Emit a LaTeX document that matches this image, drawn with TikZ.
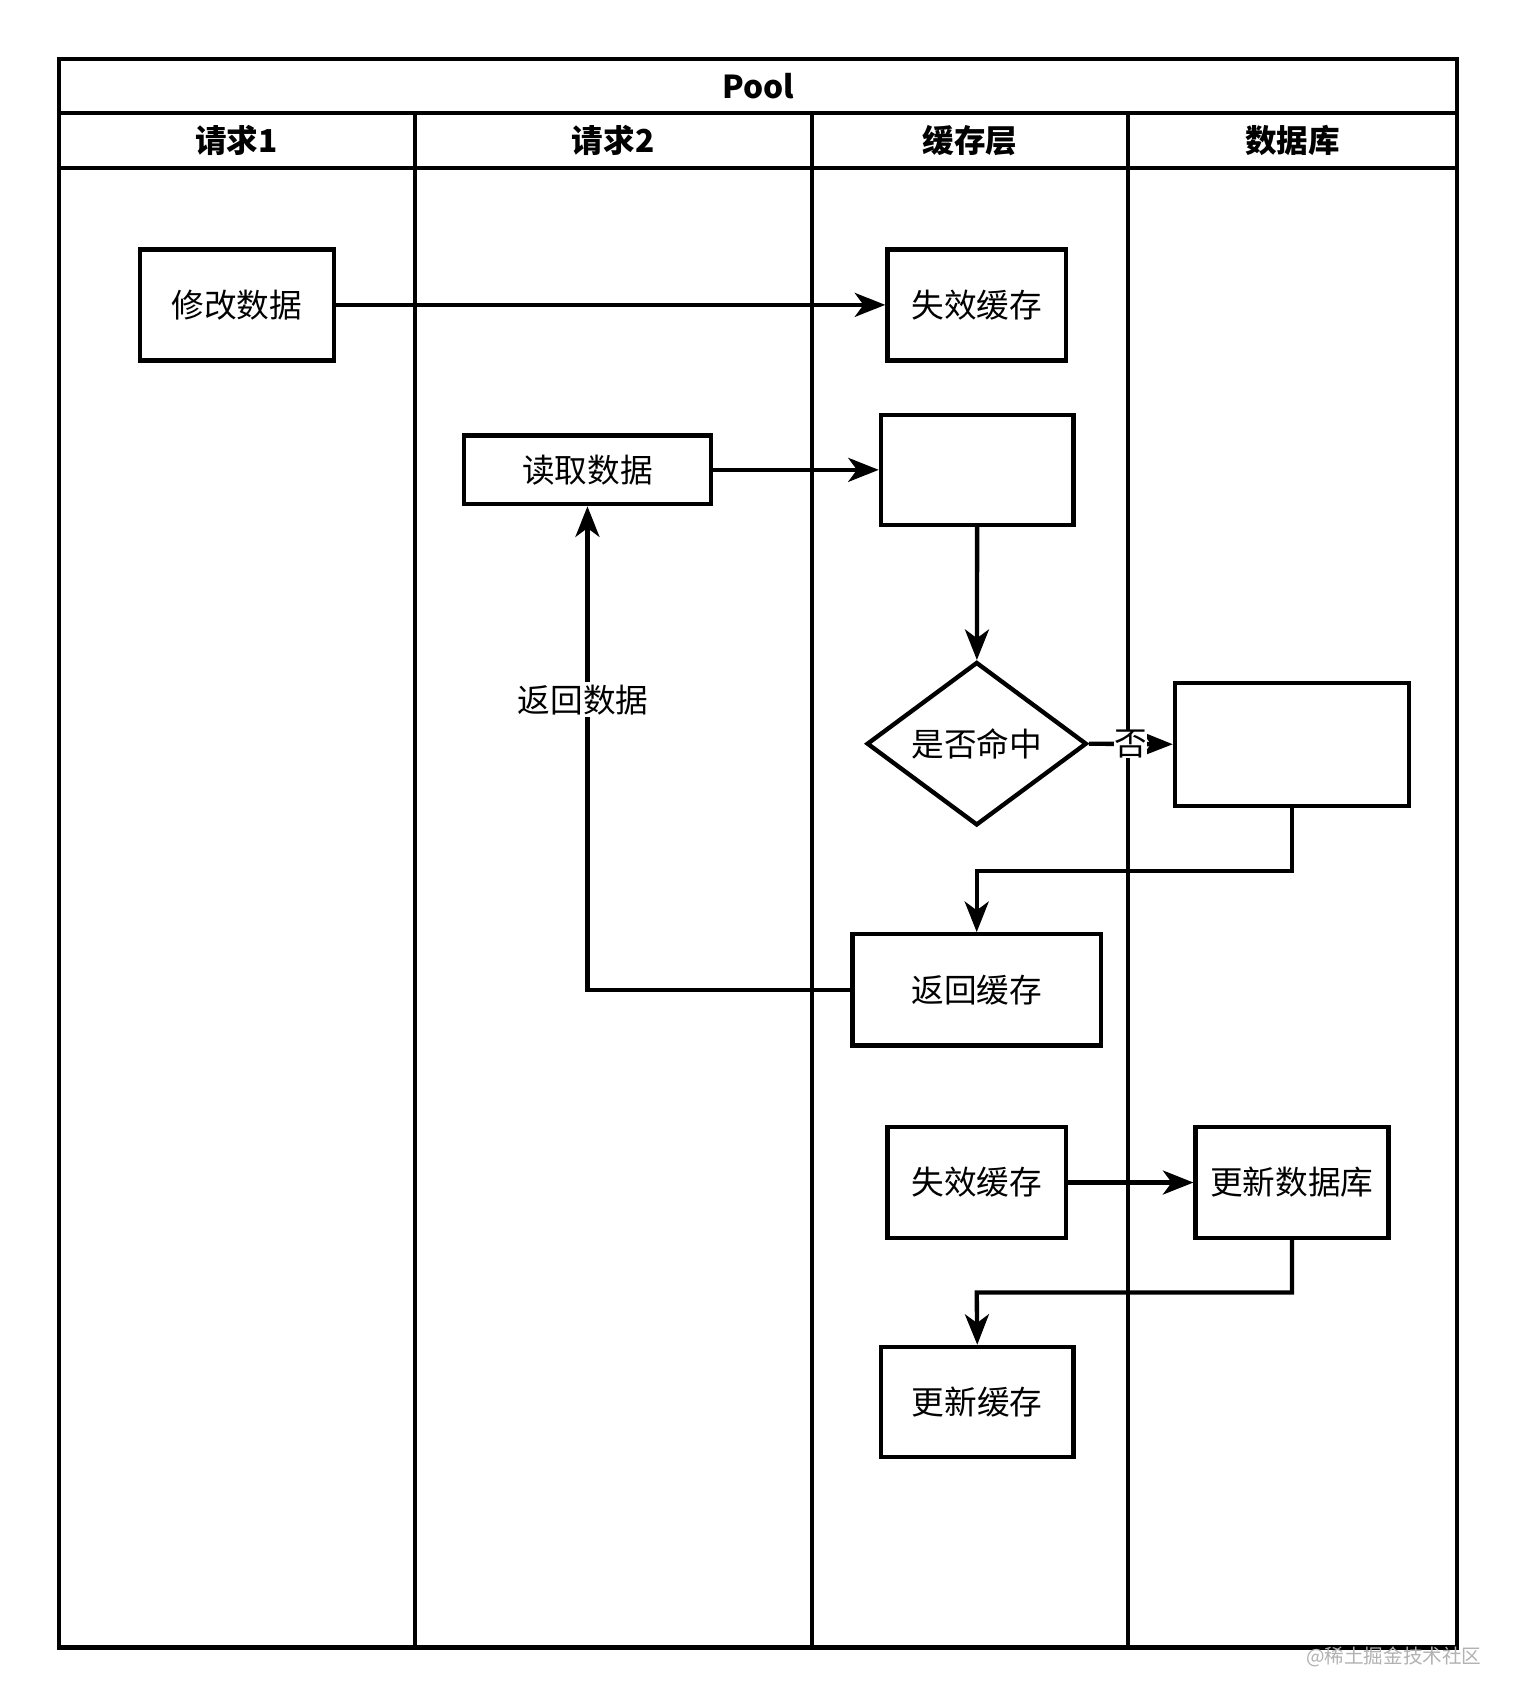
\documentclass[tikz,border=0pt]{standalone}
\usepackage{fontspec}
\setmainfont{Liberation Sans}
\newfontfamily\cjk{Noto Sans CJK SC}
\usetikzlibrary{arrows.meta,shapes.geometric}
\tikzset{every picture/.style={line width=2pt},
  lane/.style={draw,line width=2pt},
  procbox/.style={draw,line width=2pt,minimum width=0pt,inner sep=0pt,font=\cjk\fontsize{15}{17}\selectfont},
  lanetitle/.style={font=\cjk\bfseries\fontsize{14.5}{16}\selectfont},
  flow/.style={-{Stealth[length=14pt,width=11pt,inset=4pt]},line width=2pt}}
\begin{document}
\begin{tikzpicture}[x=0.5pt,y=-0.5pt]
	\useasboundingbox[fill=white] (0,0) rectangle (1389,1564);

	% swimlanes
	\draw [lane] (54,54) rectangle (1338,1513);
	\draw [lane] (54,104) -- (1338,104);
	\draw [lane] (54,154) -- (1338,154);
	\foreach \x in {381,746,1036}
		\draw [lane] (\x,104) -- (\x,1513);
	\node [lanetitle] (pool) at (696,79) {Pool};
	\node [lanetitle] (req1) at (217,129) {请求1};
	\node [lanetitle] (req2) at (563,129) {请求2};
	\node [lanetitle] (cache) at (891,129) {缓存层};
	\node [lanetitle] (db) at (1187,129) {数据库};

	% boxes
	\node [procbox,minimum width=89pt,minimum height=51pt] (modify) at (217.5,280) {修改数据};
	\node [procbox,minimum width=82pt,minimum height=51pt] (inval1) at (897,280) {失效缓存};
	\node [procbox,minimum width=113.5pt,minimum height=31.5pt] (read) at (539.5,431.5) {读取数据};
	\node [procbox,minimum width=88.5pt,minimum height=50.5pt] (query) at (897.5,431.5) {};
	\node [procbox,diamond,aspect=1.35,minimum width=101pt,minimum height=75pt] (hit) at (897,683) {是否命中};
	\node [procbox,minimum width=107.5pt,minimum height=56.5pt] (load) at (1186.5,683.5) {};
	\node [procbox,minimum width=114pt,minimum height=51pt] (ret) at (897,909) {返回缓存};
	\node [procbox,minimum width=82pt,minimum height=51pt] (inval2) at (897,1086) {失效缓存};
	\node [procbox,minimum width=88.5pt,minimum height=51pt] (upddb) at (1186.5,1086) {更新数据库};
	\node [procbox,minimum width=88.5pt,minimum height=50.5pt] (updcache) at (897.5,1287.5) {更新缓存};

	% connectors
	\draw [flow] (modify) -- (inval1);
	\draw [flow] (read) -- (query);
	\draw [flow] (query) -- (hit);
	\draw [flow] (hit.east) -- node [fill=white,inner sep=0pt,font=\cjk\fontsize{15}{17}\selectfont,pos=0.5] {否} (load.west);
	\draw [flow] (load.south) |- (897,800) -- (ret.north);
	\draw [flow] (ret.west) -| node [pos=0.8,fill=white,inner sep=1pt,font=\cjk\fontsize{15}{17}\selectfont,xshift=-2pt] {返回数据} (read.south);
	\draw [flow] (inval2) -- (upddb);
	\draw [flow] (upddb.south) |- (897,1187) -- (updcache.north);

	\node [text=black!30,font=\cjk\fontsize{9}{10}\selectfont] (mark) at (1280,1522) {@稀土掘金技术社区};
\end{tikzpicture}
\end{document}
